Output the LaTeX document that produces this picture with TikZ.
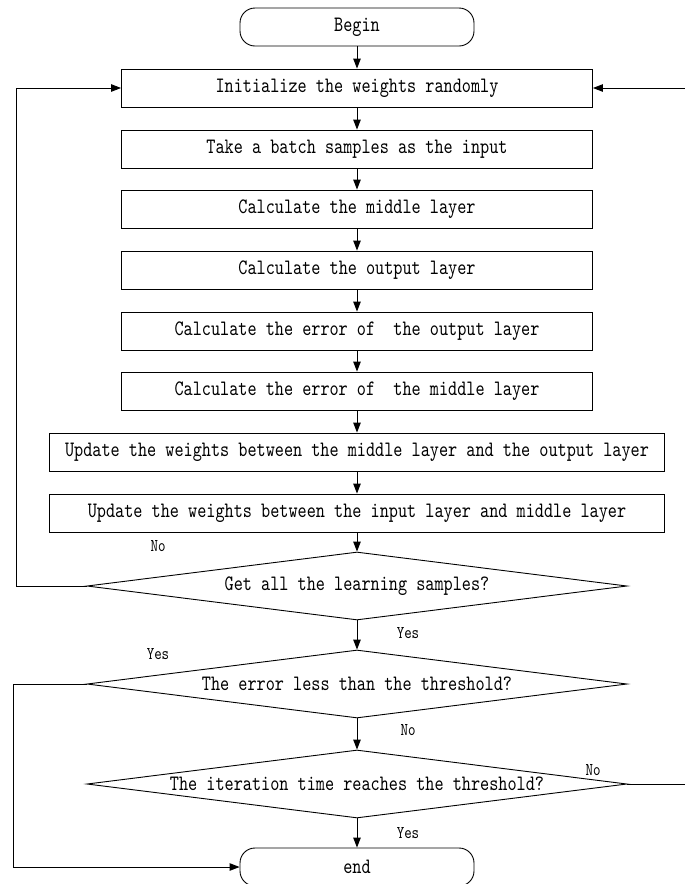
\documentclass[tikz,border=0pt]{standalone}
\usepackage{fontspec}
\setmainfont{lmmono10-regular.otf}[FakeStretch=0.79]
\usetikzlibrary{shapes.geometric,arrows.meta}

\begin{document}
\begin{tikzpicture}[x=1pt,y=-1pt,line width=0.9pt,>={Triangle[length=10pt,width=7.5pt]},
    font=\fontsize{22}{26}\selectfont,
    box/.style={draw,minimum width=471pt,minimum height=38pt,inner sep=0pt},
    wide/.style={draw,minimum width=615pt,minimum height=38pt,inner sep=0pt},
    term/.style={draw,rounded corners=15pt,minimum width=234pt,minimum height=38pt},
    test/.style={draw,diamond,aspect=8,inner sep=0pt,minimum width=540pt,minimum height=68pt},
    lbl/.style={font=\fontsize{18}{21}\selectfont,inner sep=0pt}]
    \useasboundingbox (0,0) rectangle (685,884);
    
    \node[term] (B) at (357,27) {Begin};
    \node[box] (S1) at (357,88) {Initialize the weights randomly};
    \node[box] (S2) at (357,149) {Take a batch samples as the input};
    \node[box] (S3) at (357,209) {Calculate the middle layer};
    \node[box] (S4) at (357,270) {Calculate the output layer};
    \node[box] (S5) at (357,331) {Calculate the error of~ the output layer};
    \node[box] (S6) at (357,391) {Calculate the error of~ the middle layer};
    \node[wide] (S7) at (357,452) {Update the weights between the middle layer and the output layer};
    \node[wide] (S8) at (357,513) {Update the weights between the input layer and middle layer};
    \node[test] (D1) at (357,586) {Get all the learning samples?};
    \node[test] (D2) at (357,684) {The error less than the threshold?};
    \node[test] (D3) at (357,784) {The iteration time reaches the threshold?};
    \node[term] (E) at (357,867) {end};
    
    \coordinate (L1) at (16,0);
    \coordinate (L2) at (13,0);
    \coordinate (R) at (700,0);
    
    \draw[->] (B)--(S1);
    \draw[->] (S1)--(S2);
    \draw[->] (S2)--(S3);
    \draw[->] (S3)--(S4);
    \draw[->] (S4)--(S5);
    \draw[->] (S5)--(S6);
    \draw[->] (S6)--(S7);
    \draw[->] (S7)--(S8);
    \draw[->] (S8)--(D1);
    \draw[->] (D1)--(D2);
    \draw[->] (D2)--(D3);
    \draw[->] (D3)--(E);
    
    \draw[->] (D1.west)--(D1.west-|L1)|-(S1.west);
    \draw[->] (D2.west)--(D2.west-|L2)|-(E.west);
    \draw[->] (D3.east)--(D3.east-|R)|-(S1.east);
    
    \node[lbl] (N1) at (158,546) {No};
    \node[lbl] (Y1) at (408,633) {Yes};
    \node[lbl] (Y2) at (158,654) {Yes};
    \node[lbl] (N2) at (408,730) {No};
    \node[lbl] (N3) at (593,770) {No};
    \node[lbl] (Y3) at (408,833) {Yes};
\end{tikzpicture}
\end{document}
